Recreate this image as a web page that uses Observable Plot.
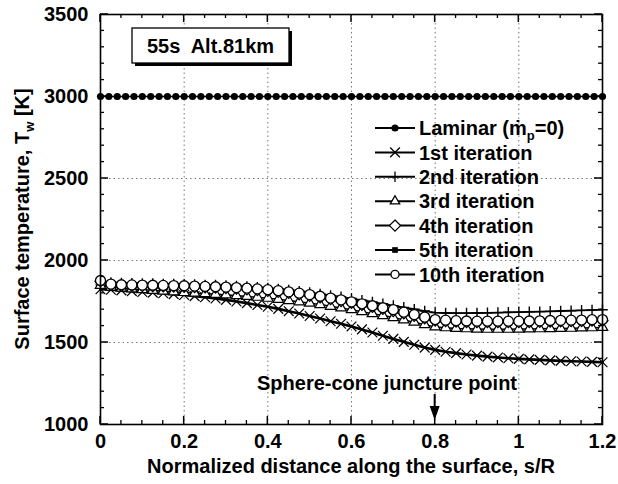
<!DOCTYPE html>
<html><head><meta charset="utf-8">
<script src="https://cdn.jsdelivr.net/npm/d3@7"></script>
<script src="https://cdn.jsdelivr.net/npm/@observablehq/plot@0.6"></script>
<style>html,body{margin:0;padding:0;background:#fff} svg{display:block}</style>
</head><body><div id="chart"></div>
<script>
// ---------- data ----------
const sLaminar = [0,0.02,0.04,0.06,0.08,0.1,0.12,0.14,0.16,0.18,0.2,0.22,0.24,0.26,0.28,0.3,0.32,0.34,0.36,0.38,0.4,0.42,0.44,0.46,0.48,0.5,0.52,0.54,0.56,0.58,0.6,0.62,0.64,0.66,0.68,0.7,0.72,0.74,0.76,0.78,0.8,0.82,0.84,0.86,0.88,0.9,0.92,0.94,0.96,0.98,1,1.02,1.04,1.06,1.08,1.1,1.12,1.14,1.16,1.18,1.2];
const tLaminar = [3000,3000,3000,3000,3000,3000,3000,3000,3000,3000,3000,3000,3000,3000,3000,3000,3000,3000,3000,3000,3000,3000,3000,3000,3000,3000,3000,3000,3000,3000,3000,3000,3000,3000,3000,3000,3000,3000,3000,3000,3000,3000,3000,3000,3000,3000,3000,3000,3000,3000,3000,3000,3000,3000,3000,3000,3000,3000,3000,3000,3000];
const sIter = [0,0.025,0.05,0.075,0.1,0.125,0.15,0.175,0.2,0.225,0.25,0.275,0.3,0.325,0.35,0.375,0.4,0.425,0.45,0.475,0.5,0.525,0.55,0.575,0.6,0.625,0.65,0.675,0.7,0.725,0.75,0.775,0.8,0.825,0.85,0.875,0.9,0.925,0.95,0.975,1,1.025,1.05,1.075,1.1,1.125,1.15,1.175,1.2];
const t1st = [1825,1822,1818,1813,1808,1804,1800,1795,1790,1783,1776,1768,1760,1750,1740,1729,1718,1705,1691,1677,1662,1646,1630,1614,1598,1580,1561,1541,1522,1504,1486,1469,1455,1444,1435,1427,1420,1414,1409,1404,1400,1397,1394,1391,1388,1386,1384,1382,1380];
const t2nd = [1872,1866,1863,1861,1860,1859,1857,1856,1855,1853,1851,1850,1848,1845,1841,1837,1832,1826,1820,1813,1805,1796,1787,1778,1768,1758,1747,1736,1725,1714,1703,1692,1682,1680,1679,1679,1680,1681,1682,1684,1685,1687,1688,1690,1692,1694,1696,1698,1700];
const t3rd = [1848,1838,1832,1827,1822,1818,1813,1809,1805,1801,1798,1794,1790,1786,1781,1776,1770,1763,1756,1748,1740,1731,1721,1711,1700,1688,1676,1664,1652,1638,1624,1609,1595,1590,1586,1584,1582,1581,1581,1581,1582,1583,1584,1585,1586,1587,1589,1590,1592];
const t4th = [1874,1850,1846,1845,1844,1843,1842,1841,1840,1838,1836,1834,1831,1828,1824,1820,1815,1809,1802,1794,1785,1775,1764,1753,1741,1729,1717,1705,1692,1678,1663,1648,1634,1630,1627,1625,1624,1624,1624,1624,1624,1625,1626,1628,1629,1630,1631,1633,1634];
const t5th = [1877,1854,1850,1849,1848,1847,1846,1845,1844,1842,1840,1838,1836,1833,1829,1825,1820,1814,1807,1799,1790,1780,1769,1758,1746,1734,1722,1710,1698,1683,1668,1653,1638,1634,1631,1629,1628,1628,1628,1628,1628,1629,1630,1632,1633,1634,1635,1637,1638];
const t10th = [1878,1856,1852,1851,1850,1849,1848,1847,1846,1844,1842,1840,1838,1835,1831,1827,1822,1816,1809,1801,1792,1782,1771,1760,1748,1736,1724,1712,1700,1685,1670,1655,1640,1636,1633,1631,1630,1630,1630,1630,1630,1631,1632,1634,1635,1636,1637,1639,1640];

const seriesNames = ["Laminar", "1st iteration", "2nd iteration", "3rd iteration", "4th iteration", "5th iteration", "10th iteration"];
const xTicks = [0, 0.2, 0.4, 0.6, 0.8, 1, 1.2];
const xTickLabels = ["0", "0.2", "0.4", "0.6", "0.8", "1", "1.2"];
const xMinor = [0.05,0.1,0.15,0.25,0.3,0.35,0.45,0.5,0.55,0.65,0.7,0.75,0.85,0.9,0.95,1.05,1.1,1.15];
const xGrid = [0.2, 0.4, 0.6, 0.8, 1];
const yTicks = [1000, 1500, 2000, 2500, 3000, 3500];
const yMinor = [1100,1200,1300,1400,1600,1700,1800,1900,2100,2200,2300,2400,2600,2700,2800,2900,3100,3200,3300,3400];
const yGrid = [1500, 2000, 2500, 3000];
const xTitle = "Normalized distance along the surface, s/R";
const yTitleMain = "Surface temperature, T";
const yTitleSub = "w";
const yTitleEnd = " [K]";
const boxText = "55s  Alt.81km";
const noteText = "Sphere-cone juncture point";
const junctureS = 0.8;

// ---------- build ----------
const FONT = "'Liberation Sans', Arial, Helvetica, sans-serif";
const rows = (s, t, name) => s.map((v, i) => ({s: v, T: t[i], series: name}));
const lam = rows(sLaminar, tLaminar, seriesNames[0]);
const it1 = rows(sIter, t1st, seriesNames[1]);
const it2 = rows(sIter, t2nd, seriesNames[2]);
const it3 = rows(sIter, t3rd, seriesNames[3]);
const it4 = rows(sIter, t4th, seriesNames[4]);
const it5 = rows(sIter, t5th, seriesNames[5]);
const it10 = rows(sIter, t10th, seriesNames[6]);

const W = 618, H = 484;
const M = {left: 100, right: 16, top: 14, bottom: 60};
const ax = {fontSize: 20, fontWeight: "bold"};

const fig = Plot.plot({
  width: W, height: H,
  marginLeft: M.left, marginRight: M.right, marginTop: M.top, marginBottom: M.bottom,
  style: {fontFamily: FONT, fontWeight: "bold", fontSize: "20px", background: "white", color: "black"},
  x: {domain: [0, 1.2], label: null},
  y: {domain: [1000, 3500], label: null},
  marks: [
    Plot.gridX(xGrid, {stroke: "#777", strokeOpacity: 1, strokeDasharray: "1.5,3"}),
    Plot.gridY(yGrid, {stroke: "#777", strokeOpacity: 1, strokeDasharray: "1.5,3"}),
    // laminar
    Plot.line(lam, {x: "s", y: "T", stroke: "black", strokeWidth: 1.5}),
    Plot.dot(lam, {x: "s", y: "T", r: 3.6, fill: "black", symbol: "circle"}),
    // 1st
    Plot.line(it1, {x: "s", y: "T", stroke: "black", strokeWidth: 2.6}),
    Plot.dot(it1, {x: "s", y: "T", r: 4.5, symbol: "times", stroke: "black", strokeWidth: 1.2}),
    // 3rd
    Plot.line(it3, {x: "s", y: "T", stroke: "black", strokeWidth: 1.5}),
    Plot.dot(it3, {x: "s", y: "T", r: 5, symbol: "triangle2", fill: "white", stroke: "black", strokeWidth: 1.2}),
    // 2nd
    Plot.line(it2, {x: "s", y: "T", stroke: "black", strokeWidth: 1.8}),
    Plot.dot(it2, {x: "s", y: "T", r: 3.5, symbol: "plus", stroke: "black", strokeWidth: 1.4}),
    // 4th
    Plot.line(it4, {x: "s", y: "T", stroke: "black", strokeWidth: 1.5}),
    Plot.dot(it4, {x: "s", y: "T", r: 5, symbol: "diamond2", fill: "white", stroke: "black", strokeWidth: 1.2}),
    // 5th
    Plot.line(it5, {x: "s", y: "T", stroke: "black", strokeWidth: 1.5}),
    Plot.dot(it5, {x: "s", y: "T", r: 3.2, symbol: "square", fill: "black"}),
    // 10th
    Plot.line(it10, {x: "s", y: "T", stroke: "black", strokeWidth: 1.5}),
    Plot.dot(it10, {x: "s", y: "T", r: 5, symbol: "circle", fill: "white", stroke: "black", strokeWidth: 1.3}),
    Plot.frame({stroke: "black", strokeWidth: 1.6}),
    // tick labels (ticks themselves drawn inward below)
    Plot.axisX(xTicks, {anchor: "bottom", tickSize: 0, tickPadding: 9, tickFormat: d => xTickLabels[xTicks.indexOf(d)], ...ax}),
    Plot.axisY(yTicks, {anchor: "left", tickSize: 0, tickPadding: 12, tickFormat: d => String(d), ...ax})
  ]
});
document.getElementById("chart").appendChild(fig);

// ---------- inward ticks and annotations, placed with the plot's scales ----------
const svg = d3.select(fig);
const xs = fig.scale("x"), ys = fig.scale("y");
const X0 = M.left, X1 = W - M.right, Y0 = M.top, Y1 = H - M.bottom;
const tk = svg.append("g").attr("stroke", "black");
const tickX = (vals, len, sw) => vals.forEach(v => {
  const px = xs.apply(v);
  tk.append("line").attr("x1", px).attr("x2", px).attr("y1", Y1).attr("y2", Y1 - len).attr("stroke-width", sw);
  tk.append("line").attr("x1", px).attr("x2", px).attr("y1", Y0).attr("y2", Y0 + len).attr("stroke-width", sw);
});
const tickY = (vals, len, sw) => vals.forEach(v => {
  const py = ys.apply(v);
  tk.append("line").attr("y1", py).attr("y2", py).attr("x1", X0).attr("x2", X0 + len).attr("stroke-width", sw);
  tk.append("line").attr("y1", py).attr("y2", py).attr("x1", X1).attr("x2", X1 - len).attr("stroke-width", sw);
});
tickX(xTicks, 8, 1.5); tickX(xMinor, 4, 1.3);
tickY(yTicks, 8, 1.5); tickY(yMinor, 4, 1.3);

const g = svg.append("g").attr("font-family", FONT).attr("font-weight", "bold").attr("fill", "black");

// axis titles
g.append("text").attr("x", (X0 + X1) / 2).attr("y", 473)
  .attr("text-anchor", "middle").attr("font-size", 20).text(xTitle);
const yt = g.append("text").attr("transform", `translate(22,${(Y0 + Y1) / 2}) rotate(-90)`)
  .attr("text-anchor", "middle").attr("font-size", 20).attr("dy", "0.35em");
yt.append("tspan").text(yTitleMain);
yt.append("tspan").attr("font-size", 13).attr("dy", 5).text(yTitleSub);
yt.append("tspan").attr("dy", -5).text(yTitleEnd);

// boxed label
const bx = 132, by = 28, bw = 157, bh = 35;
g.append("rect").attr("x", bx + 3).attr("y", by + 3).attr("width", bw).attr("height", bh).attr("fill", "black");
g.append("rect").attr("x", bx).attr("y", by).attr("width", bw).attr("height", bh).attr("fill", "white").attr("stroke", "black").attr("stroke-width", 1.3);
g.append("text").attr("x", bx + bw / 2).attr("y", by + bh / 2).attr("dy", "0.36em").attr("text-anchor", "middle")
  .attr("font-size", 20).style("white-space", "pre").text(boxText);

// juncture annotation
const ax8 = xs.apply(junctureS);
g.append("text").attr("x", 387).attr("y", 383).attr("dy", "0.36em").attr("text-anchor", "middle").attr("font-size", 20).text(noteText);
g.append("line").attr("x1", ax8).attr("x2", ax8).attr("y1", 394).attr("y2", 408).attr("stroke", "black").attr("stroke-width", 2);
g.append("path").attr("d", `M${ax8 - 5},406 L${ax8 + 5},406 L${ax8},420 Z`).attr("fill", "black");

// legend
const legendSpec = [
  {sym: d3.symbolCircle, size: Math.PI * 3.6 * 3.6, fill: "black", stroke: "none"},
  {sym: d3.symbolTimes, size: Math.PI * 4.5 * 4.5, fill: "none", stroke: "black"},
  {sym: d3.symbolPlus, size: Math.PI * 3.5 * 3.5, fill: "none", stroke: "black"},
  {sym: d3.symbolTriangle2, size: Math.PI * 4.5 * 4.5, fill: "white", stroke: "black"},
  {sym: d3.symbolDiamond2, size: Math.PI * 5 * 5, fill: "white", stroke: "black"},
  {sym: d3.symbolSquare, size: Math.PI * 3.2 * 3.2, fill: "black", stroke: "none"},
  {sym: d3.symbolCircle, size: Math.PI * 4 * 4, fill: "white", stroke: "black"}
];
const lx0 = 375, lx1 = 415, lmx = 395, ltx = 419, ly0 = 128, ldy = 24.4;
seriesNames.forEach((name, i) => {
  const y = ly0 + i * ldy;
  g.append("line").attr("x1", lx0).attr("x2", lx1).attr("y1", y).attr("y2", y).attr("stroke", "black").attr("stroke-width", 2);
  const sp = legendSpec[i];
  g.append("path").attr("transform", `translate(${lmx},${y})`).attr("d", d3.symbol(sp.sym, sp.size)())
    .attr("fill", sp.fill).attr("stroke", sp.stroke).attr("stroke-width", 1.3);
  const t = g.append("text").attr("x", ltx).attr("y", y).attr("dy", "0.36em").attr("font-size", 20).attr("text-anchor", "start");
  if (i === 0) {
    t.append("tspan").text(name + " (\u1E41");
    t.append("tspan").attr("font-size", 13).attr("dy", 5).text("p");
    t.append("tspan").attr("dy", -5).text("=0)");
  } else {
    t.text(name);
  }
});
</script>
</body></html>
